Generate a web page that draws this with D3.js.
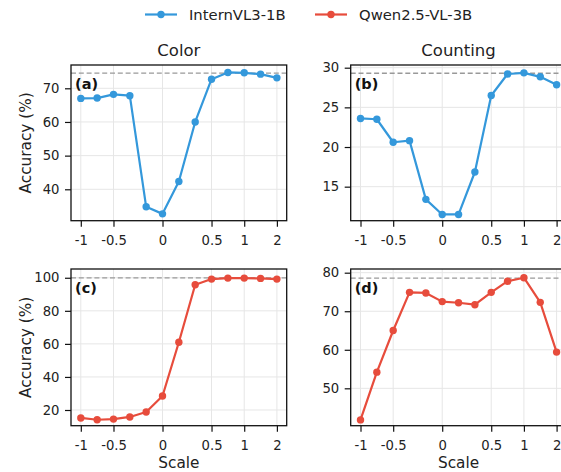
<!DOCTYPE html>
<html><head><meta charset="utf-8">
<script src="https://cdn.jsdelivr.net/npm/d3@7"></script>
<style>body{margin:0;background:#fff}svg{display:block;font-family:"DejaVu Sans",sans-serif}</style>
</head><body><svg id="c" width="561" height="472"></svg>
<script>
const tickIndex = [0, 2, 5, 8, 10, 12];
const tickLabels = ["-1", "-0.5", "0", "0.5", "1", "2"];
const pointIndex = [0,1,2,3,4,5,6,7,8,9,10,11,12];
const colorIntern = [67.0, 67.1, 68.2, 67.8, 34.8, 32.7, 42.3, 60.0, 72.7, 74.7, 74.6, 74.2, 73.1];
const countIntern = [23.6, 23.5, 20.6, 20.8, 13.4, 11.5, 11.5, 16.85, 26.5, 29.2, 29.35, 28.85, 27.85];
const colorQwen = [15.2, 14.1, 14.5, 15.8, 18.8, 28.5, 61.0, 95.8, 99.2, 99.8, 99.8, 99.6, 99.2];
const countQwen = [41.8, 54.2, 65.0, 74.9, 74.75, 72.5, 72.2, 71.7, 74.9, 77.8, 78.7, 72.3, 59.4];
const baselines = [74.5, 29.3, 99.9, 78.6];
const yTicksA = [40, 50, 60, 70];
const yTicksB = [15, 20, 25, 30];
const yTicksC = [20, 40, 60, 80, 100];
const yTicksD = [50, 60, 70, 80];
const colTitles = ["Color", "Counting"];
const seriesNames = ["InternVL3-1B", "Qwen2.5-VL-3B"];
const seriesColors = ["#3498db", "#e74c3c"];

const svg = d3.select("#c");
const panels = [
  {vals: colorIntern, col: 0, row: 0, color: seriesColors[0], ticks: yTicksA, dom: [30.67, 76.92], label: "(a)", base: baselines[0]},
  {vals: countIntern, col: 1, row: 0, color: seriesColors[0], ticks: yTicksB, dom: [10.71, 30.34], label: "(b)", base: baselines[1]},
  {vals: colorQwen, col: 0, row: 1, color: seriesColors[1], ticks: yTicksC, dom: [10.5, 105.3], label: "(c)", base: baselines[2]},
  {vals: countQwen, col: 1, row: 1, color: seriesColors[1], ticks: yTicksD, dom: [40.3, 80.96], label: "(d)", base: baselines[3]}
];
const colX = [[71, 286.7], [350.7, 566.4]];
const rowY = [[65, 220.7], [269, 425.7]];

panels.forEach(p => {
  const [x0, x1] = colX[p.col], [y0, y1] = rowY[p.row];
  const x = d3.scaleLinear().domain([-0.6, 12.6]).range([x0, x1]);
  const y = d3.scaleLinear().domain(p.dom).range([y1, y0]);
  const g = svg.append("g");
  g.selectAll(".gx").data(tickIndex).join("line")
    .attr("x1", d => x(d)).attr("x2", d => x(d)).attr("y1", y0).attr("y2", y1)
    .attr("stroke", "#e6e6e6").attr("stroke-width", 1);
  g.selectAll(".gy").data(p.ticks).join("line")
    .attr("x1", x0).attr("x2", x1).attr("y1", d => y(d)).attr("y2", d => y(d))
    .attr("stroke", "#e6e6e6").attr("stroke-width", 1);
  g.append("line").attr("x1", x0).attr("x2", x1).attr("y1", y(p.base)).attr("y2", y(p.base))
    .attr("stroke", "#999").attr("stroke-width", 1.3).attr("stroke-dasharray", "5,2.8");
  const line = d3.line().x((d, i) => x(pointIndex[i])).y(d => y(d));
  g.append("path").datum(p.vals).attr("d", line).attr("fill", "none")
    .attr("stroke", p.color).attr("stroke-width", 2.2).attr("stroke-linejoin", "round");
  g.selectAll("circle").data(p.vals).join("circle")
    .attr("cx", (d, i) => x(pointIndex[i])).attr("cy", d => y(d)).attr("r", 3.7).attr("fill", p.color);
  g.append("rect").attr("x", x0).attr("y", y0).attr("width", x1 - x0).attr("height", y1 - y0)
    .attr("fill", "none").attr("stroke", "#111").attr("stroke-width", 1.3);
  const xa = d3.axisBottom(x).tickValues(tickIndex).tickFormat((d, i) => tickLabels[i]).tickSize(6).tickPadding(8.5);
  const ax = g.append("g").attr("transform", `translate(0,${y1})`).call(xa);
  ax.select(".domain").remove();
  ax.selectAll("line").attr("stroke", "#111").attr("stroke-width", 1.2);
  ax.selectAll("text").attr("font-size", 13.2).attr("fill", "#222").attr("font-family", "DejaVu Sans");
  const ya = d3.axisLeft(y).tickValues(p.ticks).tickSize(6).tickPadding(5.5);
  const ay = g.append("g").attr("transform", `translate(${x0},0)`).call(ya);
  ay.select(".domain").remove();
  ay.selectAll("line").attr("stroke", "#111").attr("stroke-width", 1.2);
  ay.selectAll("text").attr("font-size", 13.2).attr("fill", "#222").attr("font-family", "DejaVu Sans");
  g.append("text").attr("x", x0 + 4).attr("y", y0 + 24).attr("font-size", 14.5).attr("font-weight", "bold")
    .attr("fill", "#111").text(p.label);
  if (p.row === 0) {
    g.append("text").attr("x", x(6)).attr("y", y0 - 9.5).attr("text-anchor", "middle")
      .attr("font-size", 16.5).attr("fill", "#222").text(colTitles[p.col]);
  } else {
    g.append("text").attr("x", x(6)).attr("y", 467.5).attr("text-anchor", "middle")
      .attr("font-size", 15.3).attr("fill", "#222").text("Scale");
  }
  if (p.col === 0) {
    g.append("text").attr("transform", `translate(30.5,${(y0 + y1) / 2}) rotate(-90)`)
      .attr("text-anchor", "middle").attr("font-size", 15.3).attr("fill", "#222").text("Accuracy (%)");
  }
});

const legX = [145, 315];
seriesNames.forEach((n, i) => {
  const lg = svg.append("g");
  lg.append("line").attr("x1", legX[i]).attr("x2", legX[i] + 32).attr("y1", 14.5).attr("y2", 14.5)
    .attr("stroke", seriesColors[i]).attr("stroke-width", 2.2);
  lg.append("circle").attr("cx", legX[i] + 16).attr("cy", 14.5).attr("r", 3.7).attr("fill", seriesColors[i]);
  lg.append("text").attr("x", legX[i] + 44).attr("y", 19.5).attr("font-size", 14.8).attr("fill", "#222").text(n);
});
</script></body></html>
